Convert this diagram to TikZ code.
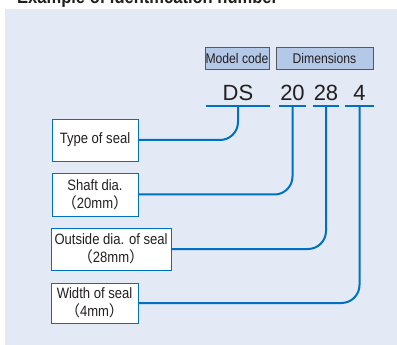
\documentclass[tikz,border=0pt]{standalone}
\usepackage{fontspec}
\setmainfont{Liberation Sans}
\newfontfamily\narrowfont[FakeStretch=0.87]{Liberation Sans}
\newfontfamily\cjk{Noto Sans CJK JP}
\definecolor{bgblue}{RGB}{227,233,245}
\definecolor{lineblue}{RGB}{0,112,192}
\definecolor{headblue}{RGB}{180,200,232}
\definecolor{textgray}{RGB}{35,31,32}
\tikzset{item/.style = {draw=lineblue, fill=white, line width=0.8pt, align=center, inner sep=0, text=textgray, font=\narrowfont\fontsize{15}{18}\selectfont}}
\tikzset{head/.style = {draw=black!65, fill=headblue, line width=0.8pt, inner sep=0, minimum height=22pt, text=textgray, font=\narrowfont\fontsize{14}{16}\selectfont}}
\tikzset{code/.style = {anchor=south, inner xsep=0, inner ysep=5pt, text depth=0pt, text=textgray, font=\fontsize{22}{22}\selectfont}}
\tikzset{conn/.style = {draw=lineblue, line width=2pt, rounded corners=18pt}}
\tikzset{uline/.style = {draw=lineblue, line width=2.2pt}}

\begin{document}
\begin{tikzpicture}[x=1pt, y=-1pt]
	\useasboundingbox (0,0) rectangle (397,345);
	\clip (0,0) rectangle (397,345);
	\fill[white] (0,0) rectangle (397,345);
	\fill[bgblue] (5,9) rectangle (397,345);
	% title, cut at the top
	\node[anchor=base west, inner sep=0, text=textgray, font=\narrowfont\bfseries\fontsize{19}{19}\selectfont] (title) at (17,4) {Example of identification number};
	% header boxes
	\node[head, minimum width=64pt] (model) at (237,58) {Model code};
	\node[head, minimum width=97pt] (dims) at (324.5,58) {Dimensions};
	% the number
	\node[code, minimum width=64pt] (ds) at (238,106) {DS};
	\node[code, minimum width=27pt] (d20) at (292.5,106) {20};
	\node[code, minimum width=26pt] (d28) at (326,106) {28};
	\node[code, minimum width=29pt] (d4) at (359.5,106) {4};
	\foreach \n in {ds,d20,d28,d4}
		\draw[uline] (\n.south west) -- (\n.south east);
	% meaning of each part
	\node[item, minimum width=86pt, minimum height=42pt] (type) at (95,140) {Type of seal};
	\node[item, minimum width=86pt, minimum height=43pt] (shaft) at (95,194.5) {Shaft dia.\\{\cjk （}20mm{\cjk ）}};
	\node[item, minimum width=120pt, minimum height=42pt] (outside) at (111,249) {Outside dia. of seal\\{\cjk （}28mm{\cjk ）}};
	\node[item, minimum width=87pt, minimum height=40pt] (width) at (94.5,303) {Width of seal\\{\cjk （}4mm{\cjk ）}};
	\draw[conn] (ds.south) |- (type.east);
	\draw[conn] (d20.south) |- (shaft.east);
	\draw[conn] (d28.south) |- (outside.east);
	\draw[conn] (d4.south) |- (width.east);
\end{tikzpicture}
\end{document}
